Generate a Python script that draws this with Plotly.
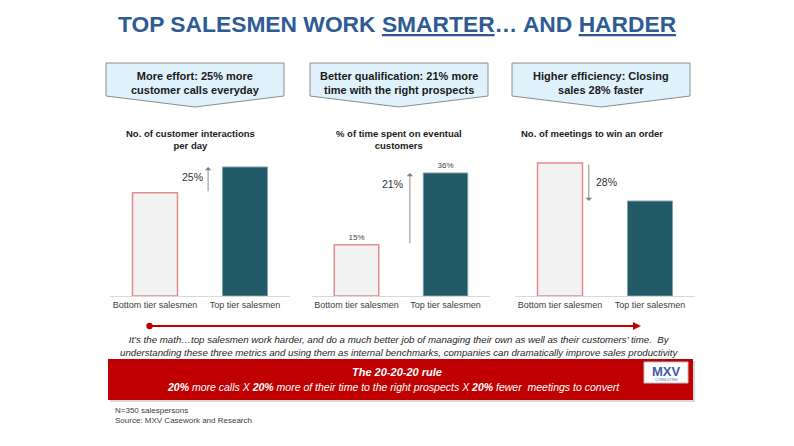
import plotly.graph_objects as go

W, H = 794, 446

# ---------------- data ----------------
categories = ["Bottom tier salesmen", "Top tier salesmen"]
interactions_per_day = [4.0, 5.0]
time_on_customers = [15, 36]
meetings_to_win = [7.0, 5.0]
change_labels = ["25%", "21%", "28%"]
value_labels_time = ["15%", "36%"]

chart_titles = [
    "No. of customer interactions<br>per day",
    "% of time spent on eventual<br>customers",
    "No. of meetings to win an order",
]
callouts = [
    "More effort: 25% more<br>customer calls everyday",
    "Better qualification: 21% more<br>time with the right prospects",
    "Higher efficiency: Closing<br>sales 28% faster",
]

FONT = "Arial, Liberation Sans, sans-serif"
BOTTOM_FILL = "#F2F2F2"
BOTTOM_LINE = "#E58C90"
TOP_FILL = "#225A67"
TOP_LINE = "#7FA3AD"
RED = "#C00000"


def px(x):
    return x / W


def py(y):
    return 1 - y / H


fig = go.Figure()

x_domains = [(110, 290), (312, 490), (515, 695)]
y_dom = [py(296), py(160)]
y_ranges = [5.27, 39.8, 7.16]
series = [interactions_per_day, time_on_customers, meetings_to_win]

for i, vals in enumerate(series):
    suffix = "" if i == 0 else str(i + 1)
    texts = value_labels_time if i == 1 else None
    fig.add_trace(go.Bar(
        x=categories, y=vals,
        xaxis="x" + suffix, yaxis="y" + suffix,
        marker=dict(color=[BOTTOM_FILL, TOP_FILL],
                    line=dict(color=[BOTTOM_LINE, TOP_LINE], width=[1.5, 1])),
        text=texts, textposition="outside" if texts else None,
        textfont=dict(size=8, color="#404040", family=FONT),
        cliponaxis=False, hoverinfo="skip", showlegend=False,
    ))
    fig.layout["xaxis" + suffix] = dict(
        domain=[px(x_domains[i][0]), px(x_domains[i][1])],
        anchor="y" + suffix, type="category",
        showline=True, linecolor="#D9D9D9", linewidth=1,
        ticks="", showgrid=False, zeroline=False,
        tickfont=dict(size=9, color="#404040", family=FONT),
    )
    fig.layout["yaxis" + suffix] = dict(
        domain=y_dom, anchor="x" + suffix, range=[0, y_ranges[i]],
        visible=False, showgrid=False, zeroline=False,
    )

# change arrows (tail at bottom-tier value, tip at top-tier value)
arrow_x = [0.59, 0.6, 0.32]
label_pos = [(0.42, 4.6, "x", "y"), (0.41, 32.7, "x2", "y2"), (0.52, 6.0, "x3", "y3")]
refs = [("x", "y"), ("x2", "y2"), ("x3", "y3")]
for i, vals in enumerate(series):
    xr, yr = refs[i]
    fig.add_annotation(
        x=arrow_x[i], y=vals[1], ax=arrow_x[i], ay=vals[0],
        xref=xr, yref=yr, axref=xr, ayref=yr,
        showarrow=True, arrowhead=1, arrowsize=1.2, arrowwidth=0.9,
        arrowcolor="#808080", text="", standoff=0, startstandoff=0,
    )
    lx, ly, lxr, lyr = label_pos[i]
    fig.add_annotation(
        x=lx, y=ly, xref=lxr, yref=lyr, text=change_labels[i], showarrow=False,
        xanchor="center", yanchor="middle",
        font=dict(size=10.5, color="#333333", family=FONT),
    )

shapes = []
annotations = []


def note(x, y, text, size, color, xanchor="center", yanchor="middle", **kw):
    annotations.append(dict(
        x=px(x), y=py(y), xref="paper", yref="paper", showarrow=False,
        xanchor=xanchor, yanchor=yanchor, text=text,
        font=dict(size=size, color=color, family=FONT), **kw))


# title
note(397, 24, "<b>TOP SALESMEN WORK <u>SMARTER</u>… AND <u>HARDER</u></b>", 22.8, "#2E5B96")

# callout boxes (pentagon arrows)
box_x = [(106, 284), (310, 488), (512, 690)]
for (x0, x1), txt in zip(box_x, callouts):
    xm = (x0 + x1) / 2
    path = (f"M {px(x0)} {py(63)} L {px(x1)} {py(63)} L {px(x1)} {py(96)} "
            f"L {px(xm)} {py(107)} L {px(x0)} {py(96)} Z")
    shapes.append(dict(type="path", path=path, xref="paper", yref="paper",
                       fillcolor="#DFF1FB", line=dict(color="#8C8C8C", width=1)))
    note(xm, 83, "<b>" + txt + "</b>", 11, "#1A1A1A")

# chart titles
title_x = [190, 399, 592]
for xc, t in zip(title_x, chart_titles):
    note(xc, 126, "<b>" + t + "</b>", 9.5, "#1A1A1A", yanchor="top")

# red arrow line
annotations.append(dict(
    x=px(641), y=py(326), ax=148 - 641, ay=0, xref="paper", yref="paper",
    axref="pixel", ayref="pixel", showarrow=True, text="",
    arrowhead=2, arrowside="end+start", startarrowhead=6, arrowsize=0.8,
    startarrowsize=0.8, arrowwidth=2, arrowcolor=RED, standoff=0, startstandoff=0,
))

# italic explanation
note(399, 346,
     "<i>It’s the math…top salesmen work harder, and do a much better job of managing their own as well as their customers’ time.  By<br>"
     "understanding these three metrics and using them as internal benchmarks, companies can dramatically improve sales productivity</i>",
     9.7, "#262626")

# red box
shapes.append(dict(type="rect", xref="paper", yref="paper",
                   x0=px(110), x1=px(695), y0=py(402), y1=py(361),
                   fillcolor="#D9D9D9", line=dict(width=0)))
shapes.append(dict(type="rect", xref="paper", yref="paper",
                   x0=px(108), x1=px(693), y0=py(400), y1=py(359),
                   fillcolor=RED, line=dict(width=0)))
note(397, 372, "<b><i>The 20-20-20 rule</i></b>", 11, "white")
note(393, 387,
     "<i><b>20%</b> more calls X <b>20%</b> more of their time to the right prospects X <b>20%</b> fewer  meetings to convert</i>",
     10.5, "white")

# logo
shapes.append(dict(type="rect", xref="paper", yref="paper",
                   x0=px(644), x1=px(688), y0=py(383), y1=py(362),
                   fillcolor="white", line=dict(color="#BFBFBF", width=1)))
note(666, 371, "<b>MXV</b>", 13, "#3F5BA9")
note(666, 380, "CONSULTING", 3.5, "#3F5BA9")

# footnote
note(113, 404, "N=350 salespersons<br>Source: MXV Casework and Research", 8, "#404040",
     xanchor="left", yanchor="top", align="left")

for a in annotations:
    fig.add_annotation(**a)
fig.update_layout(
    shapes=shapes,
    width=W, height=H,
    margin=dict(l=0, r=0, t=0, b=0),
    paper_bgcolor="white", plot_bgcolor="white",
    bargap=0.5,
    font=dict(family=FONT),
)

fig.write_html("out.html", config={"displayModeBar": False})
